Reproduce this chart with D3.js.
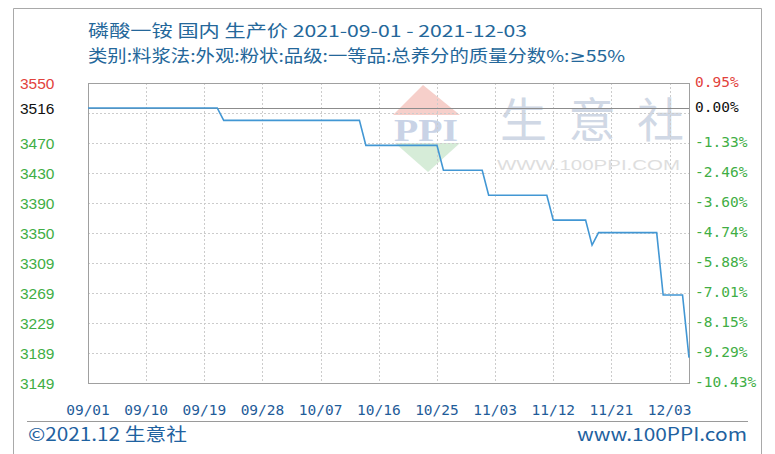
<!DOCTYPE html>
<html><head><meta charset="utf-8">
<script src="https://cdn.jsdelivr.net/npm/d3@7"></script>
<style>
html,body{margin:0;padding:0;background:#fff;}
svg{display:block;}
</style></head>
<body>
<svg id="chart" width="775" height="454"></svg>
<script>
// ---- data ----
const titleLine1 = "磷酸一铵 国内 生产价 2021-09-01 - 2021-12-03";
const titleLine2a = "类别:料浆法:外观:粉状:品级:一等品:总养分的质量分数%:";
const titleLine2b = "≥";
const titleLine2c = "55%";
const dates = ["2021-09-01","2021-09-21","2021-09-22","2021-10-13","2021-10-14","2021-10-25","2021-10-26","2021-11-01","2021-11-02","2021-11-11","2021-11-12","2021-11-17","2021-11-18","2021-11-19","2021-11-28","2021-11-29","2021-12-02","2021-12-03"];
const prices = [3516.67,3516.67,3500,3500,3466.67,3466.67,3433.33,3433.33,3400,3400,3366.67,3366.67,3333.33,3350,3350,3266.67,3266.67,3183];
const baseValue = 3516.67;
const yMin = 3149, yMax = 3550;
const leftTickValues = [3550, 3516.67, 3469.8, 3429.7, 3389.6, 3349.5, 3309.4, 3269.3, 3229.2, 3189.1, 3149];
const leftTickLabels = ["3550","3516","3470","3430","3390","3350","3309","3269","3229","3189","3149"];
const rightTickLabels = ["0.95%","0.00%","-1.33%","-2.46%","-3.60%","-4.74%","-5.88%","-7.01%","-8.15%","-9.29%","-10.43%"];
const xTickDates = ["2021-09-01","2021-09-10","2021-09-19","2021-09-28","2021-10-07","2021-10-16","2021-10-25","2021-11-03","2021-11-12","2021-11-21","2021-11-30"];
const xTickLabels = ["09/01","09/10","09/19","09/28","10/07","10/16","10/25","11/03","11/12","11/21","12/03"];
const footerLeft = "©2021.12 生意社";
const footerRight = "www.100PPI.com";

// ---- layout ----
const svg = d3.select("#chart");
const P = {l: 88, r: 689, t: 83, b: 383};
const parse = d3.timeParse("%Y-%m-%d");
const x = d3.scaleTime().domain([parse("2021-09-01"), parse("2021-12-03")]).range([P.l, P.r]);
const y = d3.scaleLinear().domain([yMin, yMax]).range([P.b, P.t]);

// outer frame
svg.append("path").attr("d", `M13.5,454 V8.5 H761.5 V454`).attr("fill","none").attr("stroke","#a9a9a9");

// title
const tFont = "'Noto Sans CJK SC','Noto Sans',sans-serif";
svg.append("text").attr("x", 88).attr("y", 37).attr("fill", "#24679a")
  .attr("font-family", tFont).attr("font-size", 16.5)
  .attr("textLength", 439).attr("lengthAdjust","spacingAndGlyphs").text(titleLine1);
const t2 = svg.append("text").attr("x", 88).attr("y", 62).attr("fill", "#24679a")
  .attr("font-family", tFont).attr("font-size", 16.5)
  .attr("textLength", 537).attr("lengthAdjust","spacingAndGlyphs");
t2.append("tspan").text(titleLine2a);
t2.append("tspan").attr("font-family","'DejaVu Sans',sans-serif").text(titleLine2b);
t2.append("tspan").text(titleLine2c);

// watermark
const wm = svg.append("g");
wm.append("polygon").attr("points","393,115 423,85 460,115").attr("fill","#f6cfca");
wm.append("text").attr("x",426).attr("y",141).attr("text-anchor","middle")
  .attr("font-family","'Liberation Serif',serif").attr("font-weight","bold").attr("font-size",32)
  .attr("fill","#c9d3e6").attr("textLength",64).attr("lengthAdjust","spacingAndGlyphs").text("PPI");
wm.append("polygon").attr("points","395,143 460,143 428,172").attr("fill","#d6ecd8");
wm.append("text").attr("x",500).attr("y",137).attr("font-family","'Noto Sans CJK SC',sans-serif")
  .attr("font-size",47).attr("fill","#d0d8e5").attr("textLength",184).attr("lengthAdjust","spacing").text("生意社");
wm.append("text").attr("x",497).attr("y",170).attr("font-family","'Liberation Sans',sans-serif")
  .attr("font-size",15).attr("fill","#dedede").attr("textLength",183).attr("lengthAdjust","spacingAndGlyphs").text("WWW.100PPI.COM");

// grid
const gridVals = d3.range(11).map(i => yMax - i * (yMax - yMin) / 10);
svg.append("g").selectAll("line").data(gridVals.slice(1, -1)).join("line")
  .attr("x1", P.l).attr("x2", P.r).attr("y1", d => Math.round(y(d)) + 0.5).attr("y2", d => Math.round(y(d)) + 0.5)
  .attr("stroke", "#cccccc").attr("stroke-dasharray", "2,2");
svg.append("g").selectAll("line").data(xTickDates.slice(1)).join("line")
  .attr("x1", d => Math.round(x(parse(d))) + 0.5).attr("x2", d => Math.round(x(parse(d))) + 0.5)
  .attr("y1", P.t).attr("y2", P.b)
  .attr("stroke", "#cccccc").attr("stroke-dasharray", "2,2");

// base line
svg.append("line").attr("x1", P.l).attr("x2", P.r)
  .attr("y1", Math.round(y(baseValue)) + 0.5).attr("y2", Math.round(y(baseValue)) + 0.5)
  .attr("stroke", "#8c8c8c").attr("stroke-width", 1.2);

// plot border
svg.append("rect").attr("x", P.l + 0.5).attr("y", P.t + 0.5).attr("width", P.r - P.l).attr("height", P.b - P.t)
  .attr("fill", "none").attr("stroke", "#a0a0a0");

// line
const pts = dates.map((d, i) => ({d: parse(d), v: prices[i]}));
svg.append("path").datum(pts)
  .attr("d", d3.line().x(p => x(p.d)).y(p => y(p.v)))
  .attr("fill", "none").attr("stroke", "#4297d4").attr("stroke-width", 1.6);

// left labels
const colorFor = i => i === 0 ? "#e2423c" : (i === 1 ? "#111111" : "#3fae45");
svg.append("g").selectAll("text").data(leftTickValues).join("text")
  .attr("x", 20).attr("y", d => y(d)).attr("dy", "0.36em")
  .attr("font-family", "'Liberation Sans',Arial,sans-serif").attr("font-size", 15.5)
  .attr("fill", (d, i) => colorFor(i)).text((d, i) => leftTickLabels[i]);

// right labels
svg.append("g").selectAll("text").data(leftTickValues).join("text")
  .attr("x", 695).attr("y", d => y(d) - 1).attr("dy", "0.36em")
  .attr("font-family", "'DejaVu Sans Mono',monospace").attr("font-size", 14.5)
  .attr("fill", (d, i) => colorFor(i)).text((d, i) => rightTickLabels[i]);

// x labels
svg.append("g").selectAll("text").data(xTickDates).join("text")
  .attr("x", d => x(parse(d))).attr("y", 415).attr("text-anchor", "middle")
  .attr("font-family", "'DejaVu Sans Mono',monospace").attr("font-size", 14.5)
  .attr("fill", "#1f5c99").text((d, i) => xTickLabels[i]);

// footer
svg.append("line").attr("x1", 27).attr("x2", 748).attr("y1", 421.5).attr("y2", 421.5).attr("stroke", "#9a9a9a");
svg.append("text").attr("x", 28).attr("y", 441).attr("fill", "#1f62a0")
  .attr("font-family", "'Noto Sans CJK SC',sans-serif").attr("font-size", 18)
  .attr("textLength", 159).attr("lengthAdjust","spacingAndGlyphs").text(footerLeft);
svg.append("text").attr("x", 747).attr("y", 441).attr("text-anchor", "end").attr("fill", "#1f62a0")
  .attr("font-family", "'Noto Sans CJK SC',sans-serif").attr("font-size", 18)
  .attr("textLength", 170).attr("lengthAdjust","spacingAndGlyphs").text(footerRight);
</script>
</body></html>
